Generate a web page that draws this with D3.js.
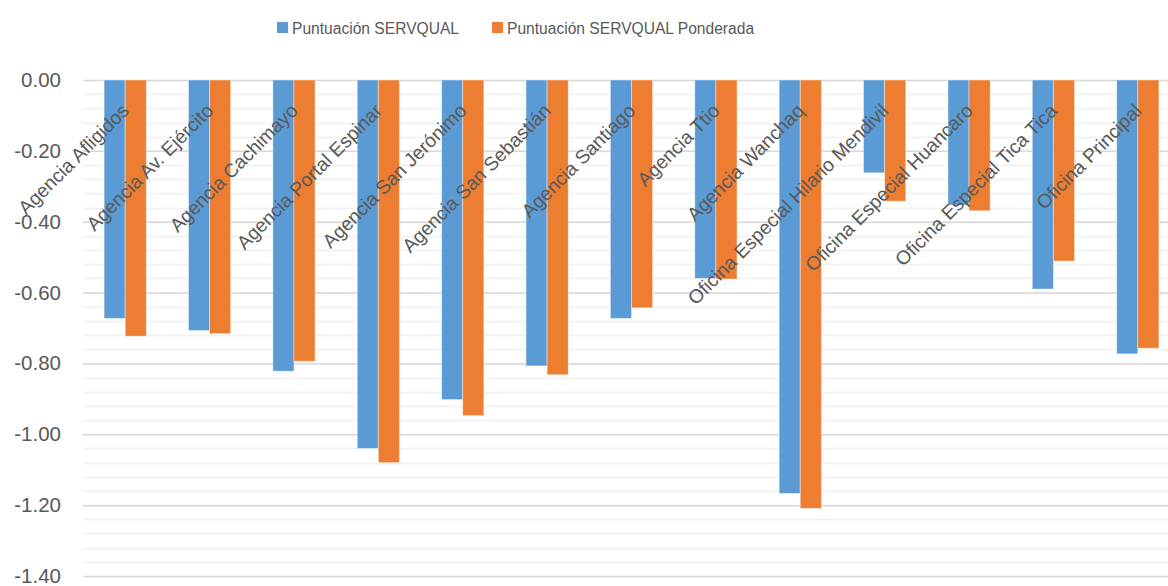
<!DOCTYPE html>
<html>
<head>
<meta charset="utf-8">
<script src="https://cdn.jsdelivr.net/npm/d3@7"></script>
<style>
  body { margin: 0; background: #fff; }
  svg { display: block; font-family: "Liberation Sans", Arial, sans-serif; }
</style>
</head>
<body>
<div id="chart"></div>
<script>
var categories = ["Agencia Afligidos", "Agencia Av. Ejército", "Agencia Cachimayo", "Agencia Portal Espinar",
    "Agencia San Jerónimo", "Agencia San Sebastián", "Agencia Santiago", "Agencia Ttio", "Agencia Wanchaq",
    "Oficina Especial Hilario Mendivil", "Oficina Especial Huancaro", "Oficina Especial Tica Tica", "Oficina Principal"];
var servqual  = [-0.673, -0.707, -0.822, -1.040, -0.902, -0.807, -0.673, -0.560, -1.167, -0.262, -0.353, -0.590, -0.773];
var ponderada = [-0.723, -0.716, -0.794, -1.080, -0.947, -0.832, -0.643, -0.562, -1.209, -0.342, -0.369, -0.511, -0.757];
var seriesNames = ["Puntuación SERVQUAL", "Puntuación SERVQUAL Ponderada"];
var majorTicks = [0, -0.2, -0.4, -0.6, -0.8, -1.0, -1.2, -1.4];
var minorStep = 0.04;

function init() {
    var w = 1168, h = 586,
        left = 83, right = 1180, top = 80, bottom = 576;
    var colors = ["#5B9BD5", "#ED7D31"];
    var fmt = d3.formatLocale({decimal: ".", thousands: ",", grouping: [3], currency: ["", ""], minus: "-"}).format(".2f");

    var rows = categories.map(function(c, i) {
        return {cat: c, values: [servqual[i], ponderada[i]]};
    });

    var x = d3.scaleBand().domain(categories).range([left, right])
        .paddingInner(0.5).paddingOuter(0.25);
    var xSub = d3.scaleBand().domain([0, 1]).range([0, x.bandwidth()]);
    var y = d3.scaleLinear().domain([-1.4, 0]).range([bottom, top]);

    var svg = d3.select("#chart").append("svg")
        .attr("width", w)
        .attr("height", h);

    // minor gridlines
    var minor = d3.range(0, 36).map(function(i) { return -i * minorStep; });
    svg.append("g").selectAll("line")
        .data(minor)
        .join("line")
        .attr("x1", left).attr("x2", w)
        .attr("y1", function(d) { return Math.round(y(d)) + 0.5; })
        .attr("y2", function(d) { return Math.round(y(d)) + 0.5; })
        .attr("stroke", "#f0f0f0")
        .attr("stroke-width", 1.3);

    // major gridlines + y labels
    var yAxis = d3.axisLeft(y).tickValues(majorTicks).tickFormat(fmt).tickSize(-(w - left)).tickPadding(22);
    var gy = svg.append("g")
        .attr("transform", "translate(" + left + ",0)")
        .call(yAxis);
    gy.select(".domain").remove();
    gy.selectAll(".tick line").attr("stroke", "#d9d9d9").attr("stroke-width", 1.5);
    gy.selectAll(".tick text")
        .attr("fill", "#595959")
        .style("font-size", "20.5px");

    // bars
    var groups = svg.append("g").selectAll("g")
        .data(rows)
        .join("g")
        .attr("transform", function(d) { return "translate(" + x(d.cat) + ",0)"; });

    groups.selectAll("rect")
        .data(function(d) { return d.values.map(function(v, k) { return {k: k, v: v}; }); })
        .join("rect")
        .attr("x", function(d) { return xSub(d.k); })
        .attr("width", xSub.bandwidth())
        .attr("y", y(0))
        .attr("height", function(d) { return y(d.v) - y(0); })
        .attr("fill", function(d) { return colors[d.k]; })
        .attr("stroke", "#fff")
        .attr("stroke-opacity", 0.4)
        .attr("stroke-width", 1);

    // category labels, rotated
    svg.append("g").selectAll("text")
        .data(categories)
        .join("text")
        .attr("transform", function(d) {
            return "translate(" + (x(d) + x.bandwidth() / 2 + 5) + "," + 112 + ") rotate(-45)";
        })
        .attr("text-anchor", "end")
        .attr("fill", "#595959")
        .style("font-size", "19.3px")
        .text(function(d) { return d; });

    // legend
    var legendX = [277, 492];
    var legend = svg.append("g");
    seriesNames.forEach(function(name, i) {
        var item = legend.append("g").attr("transform", "translate(" + legendX[i] + ",22)");
        item.append("rect")
            .attr("width", 11)
            .attr("height", 11)
            .attr("fill", colors[i]);
        item.append("text")
            .attr("x", 15)
            .attr("y", 12)
            .attr("fill", "#595959")
            .style("font-size", "15.6px")
            .text(name);
    });
}

init();
</script>
</body>
</html>
